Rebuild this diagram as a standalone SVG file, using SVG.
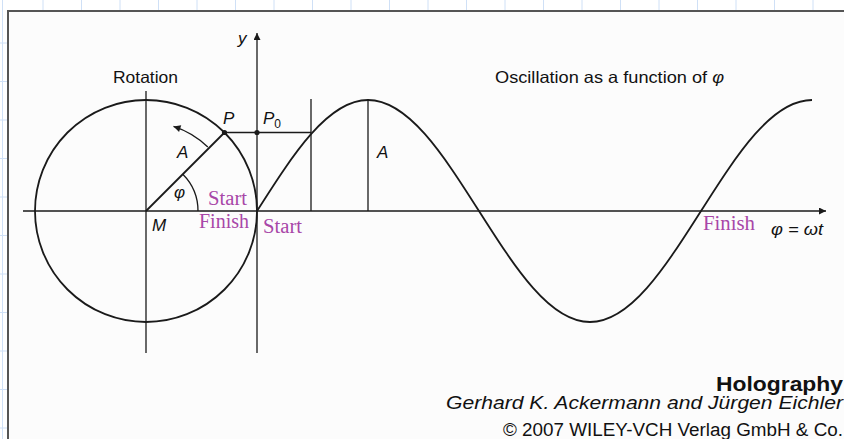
<svg xmlns="http://www.w3.org/2000/svg" width="844" height="439" viewBox="0 0 844 439">
<style>
.grid{stroke:#cfe0f6;stroke-width:1}
.ln{stroke:#1a1a1a;stroke-width:1.3;fill:none}
.thick{stroke:#1a1a1a;stroke-width:1.8;fill:none}
.t{font-family:"Liberation Sans",Arial,sans-serif;fill:#111}
.it{font-family:"Liberation Sans",Arial,sans-serif;font-style:italic;fill:#111}
.pu{font-family:"Liberation Serif","Times New Roman",serif;fill:#a847a8}
</style>
<defs>
<marker id="ah" viewBox="0 0 10 10" refX="10" refY="5" markerWidth="9" markerHeight="7" markerUnits="userSpaceOnUse" orient="auto">
<path d="M0,0 L10,5 L0,10 Z" fill="#1a1a1a"/>
</marker>
</defs>
<rect x="0" y="0" width="844" height="439" fill="#ffffff"/>
<g id="grid">
<path class="grid" d="M43,0V439M81.5,0V439M120,0V439M158.5,0V439M197,0V439M235.5,0V439M274,0V439M312.5,0V439M351,0V439M389.5,0V439M428,0V439M466.5,0V439M505,0V439M543.5,0V439M582,0V439M620.5,0V439M659,0V439M697.5,0V439M736,0V439M774.5,0V439M813,0V439"/>
<path class="grid" d="M0,43H844M0,81.5H844M0,120H844M0,158.5H844M0,197H844M0,235.5H844M0,274H844M0,312.5H844M0,351H844M0,389.5H844M0,428H844M2.5,0V439"/>
</g>
<rect id="frame" x="8" y="11" width="850" height="440" fill="#fcfcfc" stroke="#555" stroke-width="2"/>
<g id="connectors">
<line class="ln" x1="23" y1="211" x2="826" y2="211" marker-end="url(#ah)"/>
<line class="ln" x1="257" y1="353" x2="257" y2="33" marker-end="url(#ah)"/>
<line class="ln" x1="146" y1="91" x2="146" y2="353"/>
<line class="ln" x1="311" y1="99" x2="311" y2="211"/>
<line class="ln" x1="368" y1="99" x2="368" y2="211"/>
<line class="ln" x1="224.5" y1="132.5" x2="311" y2="132.5"/>
<line class="thick" x1="146" y1="211" x2="224.5" y2="132.5"/>
<path class="ln" d="M198,211 A52,52 0 0 0 182.8,174.2"/>
<path class="ln" d="M207.8,147 A89,89 0 0 0 173.5,126.4" marker-end="url(#ah)"/>
</g>
<g id="circle">
<circle class="thick" cx="146" cy="211" r="111"/>
<circle cx="224.5" cy="132.5" r="2.6" fill="#1a1a1a"/>
<circle cx="257" cy="132.5" r="2.6" fill="#1a1a1a"/>
</g>
<g id="sine">
<path class="thick" d="M257,211 C293.2,154.1 327.8,100 368,100 S442.8,154.1 479,211 S549.8,322 590,322 S664.8,267.9 701,211 S771.8,100 812,100"/>
</g>
<g id="labels">
<text class="t" x="113" y="83" font-size="16.5" textLength="65" lengthAdjust="spacingAndGlyphs">Rotation</text>
<text class="t" x="495" y="83" font-size="16.5" textLength="229" lengthAdjust="spacingAndGlyphs">Oscillation as a function of <tspan font-style="italic">φ</tspan></text>
<text class="it" x="238" y="44" font-size="17">y</text>
<text class="it" x="223" y="124" font-size="17">P</text>
<text class="it" x="263" y="124" font-size="17">P<tspan font-size="12" font-style="normal" dy="4">0</tspan></text>
<text class="it" x="177" y="158" font-size="17">A</text>
<text class="it" x="377" y="158" font-size="17">A</text>
<text class="it" x="174" y="198" font-size="17">φ</text>
<text class="it" x="152" y="231" font-size="17">M</text>
<text class="pu" x="208" y="205" font-size="20" textLength="39" lengthAdjust="spacingAndGlyphs">Start</text>
<text class="pu" x="199" y="228" font-size="20" textLength="50" lengthAdjust="spacingAndGlyphs">Finish</text>
<text class="pu" x="263" y="233" font-size="20" textLength="39" lengthAdjust="spacingAndGlyphs">Start</text>
<text class="pu" x="703" y="230" font-size="20" textLength="52" lengthAdjust="spacingAndGlyphs">Finish</text>
<text class="it" x="771" y="235" font-size="17" textLength="52" lengthAdjust="spacingAndGlyphs">φ = ωt</text>
</g>
<g id="credits">
<text class="t" x="716" y="391" font-size="21" font-weight="bold" textLength="127" lengthAdjust="spacingAndGlyphs">Holography</text>
<text class="it" x="446" y="409" font-size="18.5" textLength="397" lengthAdjust="spacingAndGlyphs">Gerhard K. Ackermann and Jürgen Eichler</text>
<text class="t" x="503" y="436" font-size="18" textLength="340" lengthAdjust="spacingAndGlyphs">© 2007 WILEY-VCH Verlag GmbH &amp; Co.</text>
</g>
</svg>
